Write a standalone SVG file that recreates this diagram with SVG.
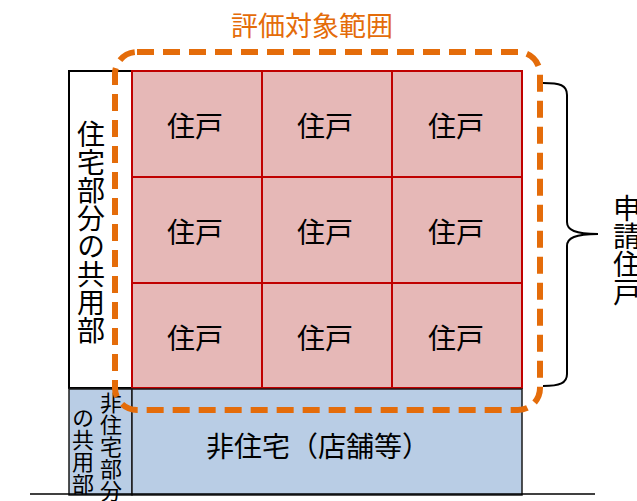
<svg xmlns="http://www.w3.org/2000/svg" width="637" height="501" viewBox="0 0 637 501">
<style>
.cell{fill:#E6B8B7;stroke:#C00000;stroke-width:2}
.blue{fill:#B9CDE5;stroke:#1a1a1a;stroke-width:1.5}
.t{font-family:"Noto Sans CJK JP","Noto Sans CJK SC",sans-serif;fill:#000}
.c{font-size:28px;text-anchor:middle}
.v{writing-mode:vertical-rl;text-orientation:upright}
</style>
<rect width="637" height="501" fill="#fff"/>
<g id="common-residential">
<rect x="69" y="71" width="63" height="317" fill="#fff" stroke="#000" stroke-width="2"/>
<text class="t v" x="91" y="120" font-size="28">住宅部分の共用部</text>
</g>
<g id="units">
<rect class="cell" x="132" y="71" width="130" height="106"/>
<rect class="cell" x="262" y="71" width="130" height="106"/>
<rect class="cell" x="392" y="71" width="130" height="106"/>
<rect class="cell" x="132" y="177" width="130" height="106"/>
<rect class="cell" x="262" y="177" width="130" height="106"/>
<rect class="cell" x="392" y="177" width="130" height="106"/>
<rect class="cell" x="132" y="283" width="130" height="105"/>
<rect class="cell" x="262" y="283" width="130" height="105"/>
<rect class="cell" x="392" y="283" width="130" height="105"/>
<g class="t c">
<text x="195" y="137">住戸</text><text x="325" y="137">住戸</text><text x="456" y="137">住戸</text>
<text x="195" y="243">住戸</text><text x="325" y="243">住戸</text><text x="456" y="243">住戸</text>
<text x="195" y="349">住戸</text><text x="325" y="349">住戸</text><text x="456" y="349">住戸</text>
</g>
</g>
<g id="common-nonresidential">
<rect class="blue" x="69" y="389" width="63" height="106"/>
<text class="t v" x="111" y="392" font-size="22">非住宅部分</text>
<text class="t v" x="83" y="407" font-size="22">の共用部</text>
</g>
<g id="shop">
<rect class="blue" x="132" y="389" width="390" height="106"/>
<text class="t c" x="318" y="457">非住宅（店舗等）</text>
</g>
<line x1="30" y1="494" x2="595" y2="494" stroke="#000" stroke-width="1.5"/>
<g id="scope">
<rect x="115" y="52" width="425" height="358" rx="22" ry="22" fill="none" stroke="#E46C0A" stroke-width="6" stroke-dasharray="17 9"/>
<text class="t" x="312" y="36" font-size="27" text-anchor="middle" style="fill:#E46C0A">評価対象範囲</text>
</g>
<g id="connectors">
<path d="M543 83 C560 83 567 85 567 95 L567 222 C567 230 575 234 598 234 C575 234 567 238 567 246 L567 374 C567 383 560 386 543 386" fill="none" stroke="#000" stroke-width="2"/>
</g>
<g id="applicant">
<text class="t v" x="627" y="194" font-size="28">申請住戸</text>
</g>
</svg>
